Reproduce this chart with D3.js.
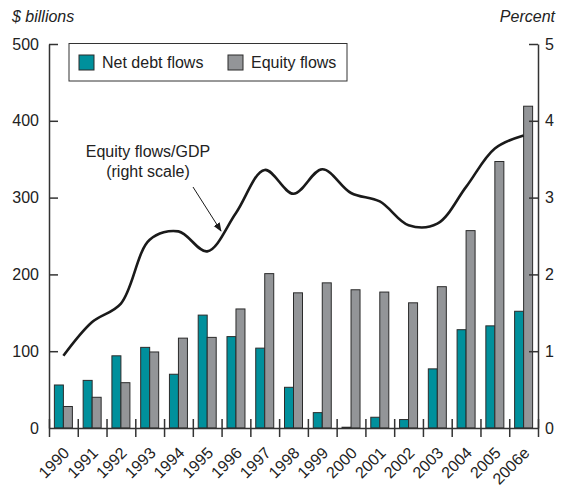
<!DOCTYPE html>
<html>
<head>
<meta charset="utf-8">
<script src="https://cdn.jsdelivr.net/npm/d3@7"></script>
<style>
  body { margin: 0; background: #fff; }
  text { font-family: "Liberation Sans", Arial, Helvetica, sans-serif; fill: #222; }
</style>
</head>
<body>
<div id="chart"></div>
<script>
// data
const years = ['1990','1991','1992','1993','1994','1995','1996','1997','1998','1999','2000','2001','2002','2003','2004','2005','2006e'];
const netDebt = [56, 62, 94, 105, 70, 147, 119, 104, 53, 20, 1, 14, 11, 77, 128, 133, 152];
const equity = [28, 40, 59, 99, 117, 118, 155, 201, 176, 189, 180, 177, 163, 184, 257, 347, 419];
const equityGdp = [0.94, 1.38, 1.62, 2.45, 2.56, 2.30, 2.80, 3.36, 3.05, 3.37, 3.06, 2.95, 2.64, 2.66, 3.14, 3.64, 3.81];
const leftTicks = [0, 100, 200, 300, 400, 500];
const rightTicks = [0, 1, 2, 3, 4, 5];

const WIDTH = 561, HEIGHT = 502;
const MARGIN = { left: 49, right: 23, top: 44, bottom: 74 };
const TEAL = '#00909c', GRAY = '#939598', EDGE = '#2b2b2b', AXIS = '#333';
const FS = '16px';

const svg = d3.select('#chart').append('svg')
  .attr('width', WIDTH).attr('height', HEIGHT);

const x = d3.scaleBand().domain(years)
  .range([MARGIN.left, WIDTH - MARGIN.right]).padding(0);
const bw = x.bandwidth();
const xSub = d3.scaleBand().domain(['debt', 'equity'])
  .range([bw / 2 - 9, bw / 2 + 9]);
const yL = d3.scaleLinear().domain([0, 500]).range([HEIGHT - MARGIN.bottom, MARGIN.top]);
const yR = d3.scaleLinear().domain([0, 5]).range([HEIGHT - MARGIN.bottom, MARGIN.top]);
// boundaries between years, for the bottom ticks
const xb = d3.scaleLinear().domain([0, years.length]).range(x.range());

// bars
const groups = svg.append('g').selectAll('g')
  .data(years).join('g')
  .attr('transform', d => `translate(${x(d)},0)`);
groups.append('rect')
  .attr('x', xSub('debt')).attr('width', xSub.bandwidth())
  .attr('y', (d, i) => yL(netDebt[i]))
  .attr('height', (d, i) => yL(0) - yL(netDebt[i]))
  .attr('fill', TEAL).attr('stroke', EDGE).attr('stroke-width', 1);
groups.append('rect')
  .attr('x', xSub('equity')).attr('width', xSub.bandwidth())
  .attr('y', (d, i) => yL(equity[i]))
  .attr('height', (d, i) => yL(0) - yL(equity[i]))
  .attr('fill', GRAY).attr('stroke', EDGE).attr('stroke-width', 1);

// axes
const leftAxis = svg.append('g')
  .attr('transform', `translate(${MARGIN.left},0)`)
  .call(d3.axisLeft(yL).tickValues(leftTicks).tickSizeInner(-9).tickSizeOuter(0).tickPadding(10));
const rightAxis = svg.append('g')
  .attr('transform', `translate(${WIDTH - MARGIN.right},0)`)
  .call(d3.axisRight(yR).tickValues(rightTicks).tickFormat(d3.format('d'))
    .tickSizeInner(-9).tickSizeOuter(0).tickPadding(7));
const bottomAxis = svg.append('g')
  .attr('transform', `translate(0,${yL(0)})`)
  .call(d3.axisBottom(xb).tickValues(d3.range(years.length + 1)).tickSize(9).tickSizeOuter(0).tickFormat(''));
bottomAxis.selectAll('.tick line').attr('y1', -9);

[leftAxis, rightAxis, bottomAxis].forEach(a => {
  a.select('.domain').attr('stroke', AXIS).attr('stroke-width', 1.5);
  a.selectAll('.tick line').attr('stroke', AXIS).attr('stroke-width', 1.5);
  a.selectAll('.tick text').style('font-size', FS).attr('fill', '#222');
});
leftAxis.selectAll('.tick').filter(d => d === 0).select('line').remove();
rightAxis.selectAll('.tick').filter(d => d === 0).select('line').remove();

// year labels
svg.append('g').selectAll('text')
  .data(years).join('text')
  .attr('transform', d => `translate(${x(d) + bw / 2 + 7},${yL(0) + 26}) rotate(-45)`)
  .attr('text-anchor', 'end')
  .style('font-size', FS)
  .text(d => d);

// line, right scale
const line = d3.line()
  .x((d, i) => x(years[i]) + bw / 2)
  .y(d => yR(d))
  .curve(d3.curveCatmullRom.alpha(0.5));
svg.append('path')
  .datum(equityGdp)
  .attr('d', line)
  .attr('fill', 'none')
  .attr('stroke', '#1a1a1a')
  .attr('stroke-width', 2.6);

// axis titles
svg.append('text').attr('x', 12).attr('y', 22)
  .style('font-size', FS).style('font-style', 'italic').text('$ billions');
svg.append('text').attr('x', 555).attr('y', 22).attr('text-anchor', 'end')
  .style('font-size', FS).style('font-style', 'italic').text('Percent');

// legend
const legend = svg.append('g');
legend.append('rect').attr('x', 69).attr('y', 43.5).attr('width', 278).attr('height', 37.5)
  .attr('fill', '#fff').attr('stroke', AXIS).attr('stroke-width', 1);
legend.append('rect').attr('x', 79).attr('y', 55).attr('width', 15).attr('height', 15)
  .attr('fill', TEAL).attr('stroke', EDGE);
legend.append('text').attr('x', 102).attr('y', 68).style('font-size', FS).text('Net debt flows');
legend.append('rect').attr('x', 228).attr('y', 55).attr('width', 15).attr('height', 15)
  .attr('fill', GRAY).attr('stroke', EDGE);
legend.append('text').attr('x', 251).attr('y', 68).style('font-size', FS).text('Equity flows');

// annotation
svg.append('defs').append('marker')
  .attr('id', 'arrow').attr('viewBox', '0 0 10 10')
  .attr('refX', 9).attr('refY', 5)
  .attr('markerWidth', 9).attr('markerHeight', 9)
  .attr('markerUnits', 'userSpaceOnUse')
  .attr('orient', 'auto')
  .append('path').attr('d', 'M0,1 L10,5 L0,9 Z').attr('fill', '#1a1a1a');
svg.append('text').attr('x', 148).attr('y', 157).attr('text-anchor', 'middle')
  .style('font-size', FS).text('Equity flows/GDP');
svg.append('text').attr('x', 148).attr('y', 177).attr('text-anchor', 'middle')
  .style('font-size', FS).text('(right scale)');
svg.append('line')
  .attr('x1', 193).attr('y1', 187).attr('x2', 221).attr('y2', 231)
  .attr('stroke', '#1a1a1a').attr('stroke-width', 1)
  .attr('marker-end', 'url(#arrow)');
</script>
</body>
</html>
